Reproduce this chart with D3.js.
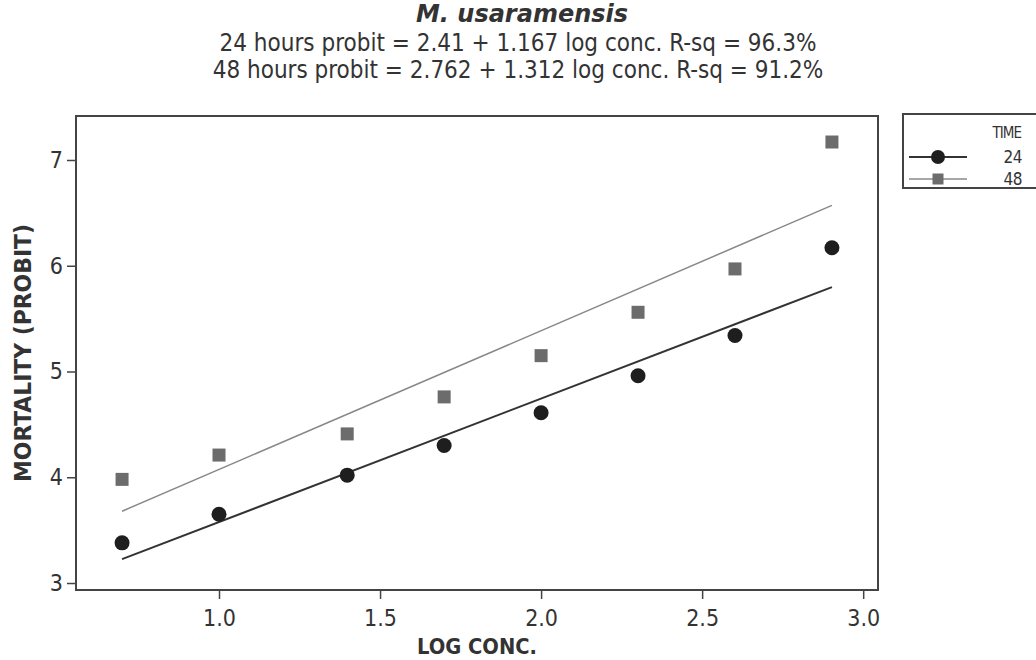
<!DOCTYPE html>
<html>
<head>
<meta charset="utf-8">
<script src="https://cdn.jsdelivr.net/npm/d3@7"></script>
<style>
  body { margin: 0; background: #fff; }
  svg { display: block; font-family: "DejaVu Sans Condensed", "DejaVu Sans", sans-serif; font-stretch: condensed; }
</style>
</head>
<body>
<svg id="chart" width="1036" height="660"></svg>
<script>
// data
const logConc = [0.699, 1.0, 1.398, 1.699, 2.0, 2.301, 2.602, 2.903];
const probit24 = [3.38, 3.65, 4.02, 4.30, 4.61, 4.96, 5.34, 6.17];
const probit48 = [3.98, 4.21, 4.41, 4.76, 5.15, 5.56, 5.97, 7.17];
const times = ["24", "48"];
// regression coefficients from the subtitle [intercept, slope]
const fit24 = [2.41, 1.167];
const fit48 = [2.762, 1.312];
const xTicks = [1.0, 1.5, 2.0, 2.5, 3.0];
const yTicks = [3, 4, 5, 6, 7];

const svg = d3.select("#chart");

const x = d3.scaleLinear().domain([0.556, 3.046]).range([76, 878]);
const y = d3.scaleLinear().domain([2.934, 7.416]).range([590, 116]);

// title block
svg.append("text")
  .attr("x", 522).attr("y", 22)
  .attr("text-anchor", "middle")
  .style("font-family", "'DejaVu Sans', sans-serif").style("font-stretch", "normal")
  .style("font-size", "24px").style("font-weight", "bold").style("font-style", "italic")
  .attr("fill", "#333")
  .text("M. usaramensis");

const subs = [
  `${times[0]} hours probit = ${fit24[0]} + ${fit24[1]} log conc. R-sq = 96.3%`,
  `${times[1]} hours probit = ${fit48[0]} + ${fit48[1]} log conc. R-sq = 91.2%`
];
svg.selectAll(".sub")
  .data(subs)
  .enter()
  .append("text")
  .attr("class", "sub")
  .attr("x", 518)
  .attr("y", (d, i) => 51 + i * 27)
  .attr("text-anchor", "middle")
  .style("font-size", "24px")
  .attr("fill", "#333")
  .text(d => d);

// axes
const xAxis = svg.append("g")
  .attr("transform", "translate(0,590)")
  .call(d3.axisBottom(x).tickValues(xTicks).tickFormat(d3.format(".1f")).tickSize(9).tickSizeOuter(0));
const yAxis = svg.append("g")
  .attr("transform", "translate(76,0)")
  .call(d3.axisLeft(y).tickValues(yTicks).tickFormat(d3.format("d")).tickSize(9).tickSizeOuter(0));

[xAxis, yAxis].forEach(a => {
  a.select(".domain").remove();
  a.selectAll("line").attr("stroke", "#444").attr("stroke-width", 1.5);
  a.selectAll("text").attr("fill", "#333").style("font-size", "23px")
    .style("font-family", "'DejaVu Sans Condensed', 'DejaVu Sans', sans-serif");
});
xAxis.selectAll("text").attr("dy", "1.05em");
yAxis.selectAll("text").attr("x", -13);

// frame
svg.append("rect")
  .attr("x", x.range()[0]).attr("y", y.range()[1])
  .attr("width", x.range()[1] - x.range()[0])
  .attr("height", y.range()[0] - y.range()[1])
  .attr("fill", "none").attr("stroke", "#444").attr("stroke-width", 2);

// axis titles
svg.append("text")
  .attr("x", 477).attr("y", 654)
  .attr("text-anchor", "middle")
  .attr("textLength", 120).attr("lengthAdjust", "spacingAndGlyphs")
  .style("font-size", "21px").style("font-weight", "bold")
  .attr("fill", "#333")
  .text("LOG CONC.");

svg.append("text")
  .attr("transform", "translate(31,353) rotate(-90)")
  .attr("text-anchor", "middle")
  .attr("textLength", 258).attr("lengthAdjust", "spacingAndGlyphs")
  .style("font-size", "23px").style("font-weight", "bold")
  .attr("fill", "#333")
  .text("MORTALITY (PROBIT)");

// fitted lines
const xmin = d3.min(logConc), xmax = d3.max(logConc);
const fits = [
  { coef: fit24, color: "#333", width: 2 },
  { coef: fit48, color: "#888", width: 1.5 }
];
svg.selectAll(".fit")
  .data(fits)
  .enter()
  .append("line")
  .attr("class", "fit")
  .attr("x1", x(xmin)).attr("y1", d => y(d.coef[0] + d.coef[1] * xmin))
  .attr("x2", x(xmax)).attr("y2", d => y(d.coef[0] + d.coef[1] * xmax))
  .attr("stroke", d => d.color)
  .attr("stroke-width", d => d.width);

// points
const pts24 = logConc.map((v, i) => ({ x: v, y: probit24[i] }));
const pts48 = logConc.map((v, i) => ({ x: v, y: probit48[i] }));
const sq = 13;

svg.selectAll(".sq")
  .data(pts48)
  .enter()
  .append("rect")
  .attr("class", "sq")
  .attr("x", d => x(d.x) - sq / 2)
  .attr("y", d => y(d.y) - sq / 2)
  .attr("width", sq).attr("height", sq)
  .attr("fill", "#6c6c6c");

svg.selectAll(".dot")
  .data(pts24)
  .enter()
  .append("circle")
  .attr("class", "dot")
  .attr("cx", d => x(d.x))
  .attr("cy", d => y(d.y))
  .attr("r", 7.5)
  .attr("fill", "#1e1e1e");

// legend
const lg = svg.append("g");
lg.append("rect")
  .attr("x", 903).attr("y", 114)
  .attr("width", 140).attr("height", 74)
  .attr("fill", "#fff").attr("stroke", "#444").attr("stroke-width", 2);
lg.append("text")
  .attr("x", 1021).attr("y", 138)
  .attr("text-anchor", "end")
  .style("font-size", "15px").style("letter-spacing", "-1px")
  .attr("fill", "#333")
  .text("TIME");

const rows = lg.selectAll(".row")
  .data(times)
  .enter()
  .append("g")
  .attr("class", "row")
  .attr("transform", (d, i) => `translate(0,${157 + i * 22})`);
rows.append("line")
  .attr("x1", 909).attr("x2", 967)
  .attr("stroke", (d, i) => fits[i].color)
  .attr("stroke-width", (d, i) => fits[i].width);
rows.filter((d, i) => i === 0).append("circle")
  .attr("cx", 938).attr("r", 7).attr("fill", "#1e1e1e");
rows.filter((d, i) => i === 1).append("rect")
  .attr("x", 938 - 5.5).attr("y", -5.5).attr("width", 11).attr("height", 11).attr("fill", "#6c6c6c");
rows.append("text")
  .attr("x", 1022).attr("y", 6)
  .attr("text-anchor", "end")
  .style("font-size", "17px").style("letter-spacing", "-0.5px")
  .attr("fill", "#333")
  .text(d => d);
</script>
</body>
</html>
